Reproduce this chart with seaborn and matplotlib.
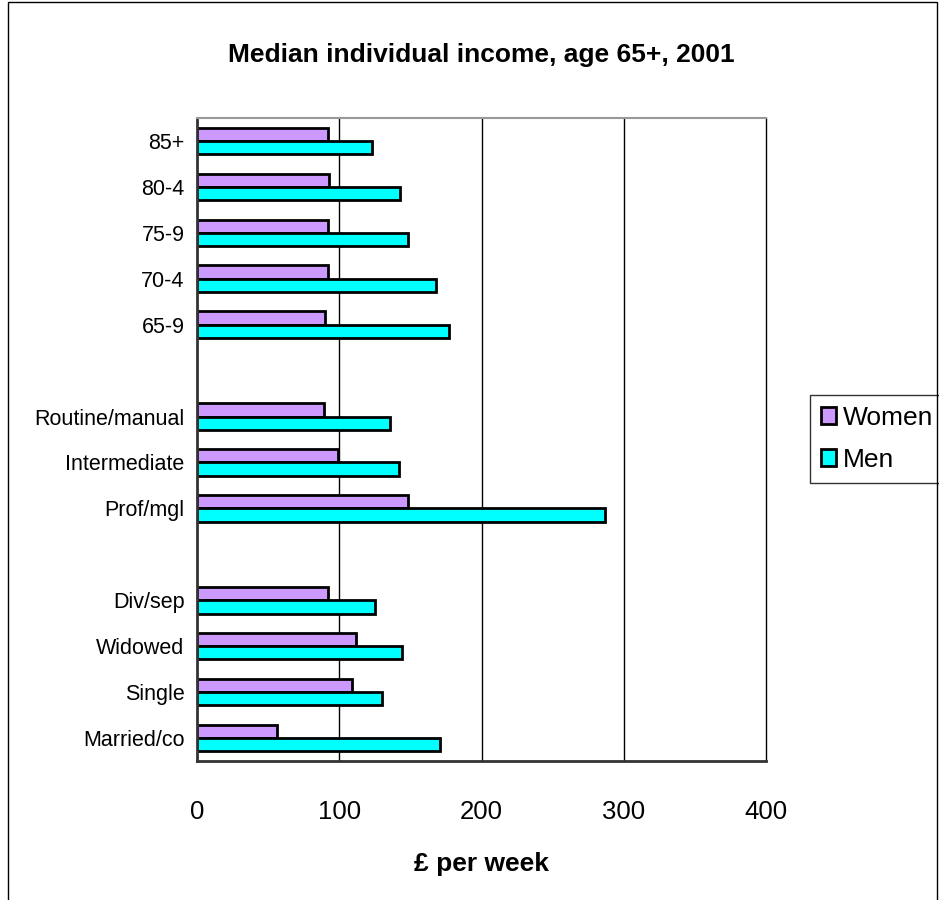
import matplotlib
matplotlib.use('Agg')
import matplotlib.pyplot as plt
from matplotlib.patches import Rectangle
from matplotlib.ticker import FixedLocator
import pandas as pd
import seaborn as sns

# categories, top to bottom ('' and ' ' are the empty gap rows)
categories = ['85+', '80-4', '75-9', '70-4', '65-9', '',
              'Routine/manual', 'Intermediate', 'Prof/mgl', ' ',
              'Div/sep', 'Widowed', 'Single', 'Married/co']
groups = ['85+', '80-4', '75-9', '70-4', '65-9',
          'Routine/manual', 'Intermediate', 'Prof/mgl',
          'Div/sep', 'Widowed', 'Single', 'Married/co']
women = [92, 93, 92, 92, 90, 89, 99, 148, 92, 112, 109, 56]
men = [123, 143, 148, 168, 177, 136, 142, 287, 125, 144, 130, 171]
x_ticks = [0, 100, 200, 300, 400]

df = pd.DataFrame({
    'group': groups * 2,
    'income': women + men,
    'sex': ['Women'] * len(groups) + ['Men'] * len(groups),
})

sns.set_style('white')
plt.rcParams['font.family'] = ['Liberation Sans', 'DejaVu Sans']
for key in ['text.color', 'axes.labelcolor', 'xtick.color', 'ytick.color']:
    plt.rcParams[key] = 'black'

fig = plt.figure(figsize=(9.39, 9.0), dpi=100)
ax = fig.add_axes([197 / 939, 1 - 761 / 900, 569 / 939, 643 / 900])

sns.barplot(data=df, x='income', y='group', hue='sex', order=categories,
            hue_order=['Women', 'Men'], palette=['#CC99FF', '#00FFFF'],
            orient='h', width=0.58, edgecolor='black', linewidth=2,
            saturation=1, errorbar=None, ax=ax)

ax.set_xlim(0, 400)
ax.set_ylim(len(categories) - 0.5, -0.5)
ax.set_xticks(x_ticks)
ax.set_xticklabels([str(t) for t in x_ticks], fontsize=18.5)
ax.tick_params(axis='x', direction='out', length=6, width=1, pad=22)
ax.tick_params(axis='y', which='major', length=0, pad=9, labelsize=15.5)
ax.yaxis.set_minor_locator(FixedLocator([i - 0.5 for i in range(len(categories) + 1)]))
ax.tick_params(axis='y', which='minor', direction='out', length=5, width=1, color='#444444')
for t in x_ticks[1:-1]:
    ax.axvline(t, color='black', lw=1, zorder=0)

for side in ['left', 'bottom']:
    ax.spines[side].set_color('#333333')
    ax.spines[side].set_linewidth(2)
ax.spines['top'].set_color('#999999')
ax.spines['top'].set_linewidth(1.5)
ax.spines['right'].set_color('black')
ax.spines['right'].set_linewidth(1)

ax.set_ylabel('')
ax.set_xlabel('£ per week', fontsize=19, fontweight='bold', labelpad=20)

fig.text(481 / 939, 1 - 55 / 900, 'Median individual income, age 65+, 2001',
         ha='center', va='center', fontsize=19, fontweight='bold')

leg = ax.legend(loc='upper left', bbox_to_anchor=(810 / 939, 1 - 395 / 900),
                bbox_transform=fig.transFigure, fontsize=19, frameon=True,
                fancybox=False, handlelength=0.6, handleheight=0.6,
                handletextpad=0.25, borderpad=0.4, labelspacing=0.7,
                borderaxespad=0)
leg.get_frame().set_edgecolor('black')
leg.get_frame().set_linewidth(1)

# outer chart border
fig.patches.append(Rectangle((8 / 939, -0.01), 929 / 939, 1.01 - 1.5 / 900,
                             transform=fig.transFigure, fill=False,
                             edgecolor='black', linewidth=1))

fig.savefig('out.png', dpi=100)
